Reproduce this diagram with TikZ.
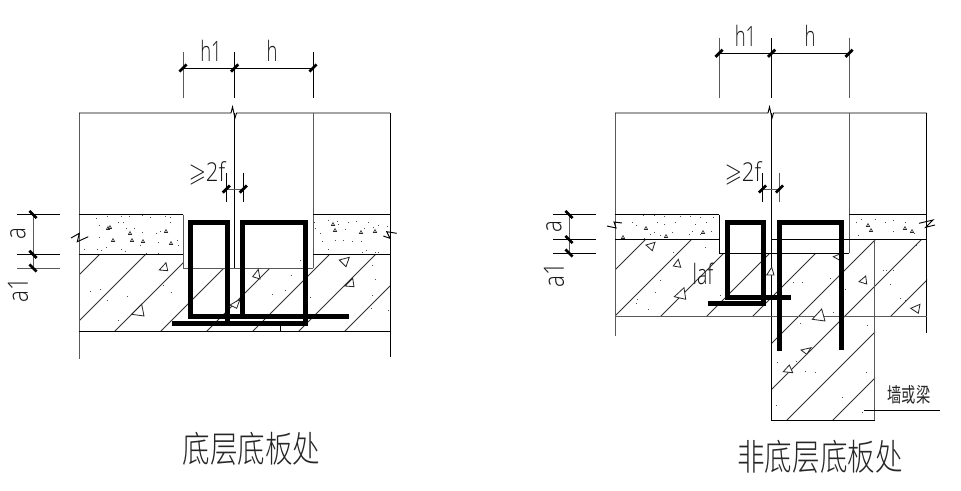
\documentclass[tikz,border=0pt]{standalone}
\usepackage{amssymb}
\usepackage{fontspec}
\setmainfont{Liberation Sans}
\newfontfamily\cadfont{Open Sans Light}
\newfontfamily\cjkfont{Noto Sans CJK SC Light}
\newfontfamily\cjkreg{Noto Sans CJK SC}
\newcommand{\cadtext}[3]{\scalebox{#1}[1]{\fontsize{#2}{#2}\cadfont #3}}
\newcommand{\tritri}[6]{\draw[aggr] (#1,#2) -- (#3,#4) -- (#5,#6) -- cycle;}
\tikzset{
  line/.style={line width=.95pt,black},
  gline/.style={line width=1pt,black!65},
  hatch/.style={line width=.85pt,black!80},
  rebar/.style={line width=5pt,black,line cap=butt,line join=miter},
  tickm/.style={line width=2.8pt,black},
  aggr/.style={line width=.8pt,black!85,fill=white},
  sg/.style={line width=.6pt,black!85},
  lab/.style={inner sep=0pt,black!90},
  cn/.style={inner sep=0pt,black!85}
}
\newcommand{\dtick}[2]{\draw[tickm] (#1-3.6,#2+3.6) -- (#1+3.6,#2-3.6);}
\newcommand{\vtick}[2]{\draw[tickm] (#1-3.6,#2-3.6) -- (#1+3.6,#2+3.6);}
\begin{document}
\begin{tikzpicture}[x=1pt,y=-1pt]
\useasboundingbox (0,0) rectangle (961,490);
\fill[white] (0,0) rectangle (961,490);

%%%%%%%% LEFT DETAIL
\begin{scope}
\clip (79,254) -- (183,254) -- (183,268) -- (313,268) -- (313,254) -- (390,254) -- (390,331) -- (79,331) -- cycle;
\foreach \c in {354,400,...,676} \draw[hatch] (\c-340,340) -- (\c-240,240);
\end{scope}
\draw[gline] (79,113) -- (79,359);
\draw[line] (390,113) -- (390,357);
\draw[line] (79,113) -- (231,113) -- (232.5,107) -- (235,118) -- (236.5,113) -- (390,113);
\draw[line] (234.6,113) -- (234.6,268);
\draw[gline] (313,113) -- (313,268);
\draw[line] (79,214.5) -- (183,214.5) (313,214.5) -- (390,214.5);
\draw[line] (79,254.4) -- (183,254.4) (313,254.4) -- (390,254.4);
\draw[gline] (183,214.5) -- (183,268) -- (313,268);
\draw[line] (79,331) -- (390,331);
\draw[line] (280,325) -- (280,331);
\draw[line] (71,238) -- (79.3,233.3) -- (77.3,241.7) -- (88.3,236.7);
\draw[line] (383.3,236) -- (390,238.3) -- (386.7,231.7) -- (396.7,233.3);
\tritri{159.3}{270}{166}{262.7}{167.7}{270.7}
\tritri{131.7}{314.3}{141.7}{304.3}{144}{316}
\tritri{252.7}{276.7}{258.3}{269.3}{260}{279}
\tritri{230}{305}{240}{299.3}{236.7}{308.3}
\tritri{339.3}{260}{349.3}{257.3}{346}{266.7}
\tritri{345}{286}{352.7}{278.3}{354}{286.7}
\foreach \p/\q in {108/228,113/240,130/233,132/240,143/241,171/243,166/231,110/227,333/224,335/230,361/232,375/231}
  \draw[sg] (\p-1.6,\q+1.5) -- (\p,\q-1.5) -- (\p+1.6,\q+1.5) -- cycle;
\foreach \p/\q in {96/218,107/216,121/216,129/216,142/215,150/217,165/216,170/217,99/225,118/222,123/222,134/228,126/228,142/232,156/233,160/231,170/222,177/240,178/245,84/249,97/249,101/250,106/247,121/249,125/251,146/253,158/253,158/242,99/237,140/245,
  314/222,328/220,337/221,348/222,356/221,368/222,378/225,387/226,320/233,322/241,328/249,335/240,343/240,352/241,361/241,315/228,338/224,345/229,364/228,373/227,362/252,375/252,378/252,366/250,
  90/291,100/289,107/300,127/296,118/320,171/292,163/285,300/260,291/275,272/294,310/297,
  372/265,375/279,371/308,372/295,388/310,285/290}
  \fill[black!70] (\p-.5,\q-.5) rectangle (\p+.5,\q+.5);
\draw[rebar] (190.5,316.5) -- (190.5,222) -- (227,222) -- (227,323);
\draw[rebar] (242.7,316.5) -- (242.7,222) -- (305,222) -- (305,325);
\draw[rebar] (188,316.5) -- (349,316.5);
\draw[rebar] (172,323) -- (307.5,323);
\draw[gline] (183,52) -- (183,98);
\draw[line] (234.6,52) -- (234.6,98);
\draw[line] (313,52) -- (313,98);
\draw[line] (183,68) -- (313,68);
\dtick{183}{68}\dtick{234.6}{68}\dtick{313}{68}
\node[lab] (lh1) at (211,50.5) {\cadtext{.66}{28}{h1}};
\node[lab] (lh) at (272,50.5) {\cadtext{.66}{28}{h}};
\draw[line] (226.3,172.5) -- (226.3,202);
\draw[line] (243.3,172.5) -- (243.3,202);
\draw[gline] (226.3,189) -- (243.3,189);
\dtick{226.3}{189}\dtick{243.3}{189}
\node[lab] (lf) at (207,173) {\cadtext{.85}{26}{$\geqslant$2f}};
\draw[line] (17,214.5) -- (60,214.5);
\draw[line] (17,254.4) -- (60,254.4);
\draw[gline] (17,268) -- (60,268);
\draw[gline] (33,214.5) -- (33,268);
\vtick{33}{214.5}\vtick{33}{254.4}\vtick{33}{268}
\node[lab,rotate=90] (la) at (18,234) {\cadtext{.8}{28}{a}};
\node[lab,rotate=90] (la1) at (18,290) {\cadtext{.8}{28}{a1}};
\node[cn] (ltitle) at (251.5,449) {\scalebox{.95}[1.25]{\fontsize{29}{29}\cjkfont 底层底板处}};

%%%%%%%% RIGHT DETAIL
\begin{scope}
\clip (615,239.5) -- (719.3,239.5) -- (719.3,253) -- (849,253) -- (849,239.5) -- (927,239.5) -- (927,316.7) -- (875,316.7) -- (875,420) -- (771.5,420) -- (771.5,316.7) -- (615,316.7) -- cycle;
\foreach \c in {885,931,...,1253} \draw[hatch] (\c-430,430) -- (\c-230,230);
\end{scope}
\draw[gline] (615,113) -- (615,336);
\draw[line] (926.5,113) -- (926.5,333);
\draw[line] (615,113) -- (768,113) -- (769.5,107) -- (772,118) -- (773.5,113) -- (926.5,113);
\draw[line] (771.6,113) -- (771.6,420) -- (874.7,420);
\draw[gline] (874.7,240) -- (874.7,420);
\draw[gline] (849,113) -- (849,253);
\draw[line] (615,214.5) -- (719.3,214.5) (849,214.5) -- (926.5,214.5);
\draw[line] (615,239.5) -- (719.3,239.5) (771.6,239.5) -- (926.5,239.5);
\draw[line] (719.3,214.5) -- (719.3,253) -- (849,253);
\draw[gline] (615,316.7) -- (926.5,316.7);
\draw[line] (607,226) -- (616,228) -- (614,222) -- (622,223);
\draw[line] (919,223.3) -- (933,220) -- (925.7,227.3) -- (935,225);
\tritri{646}{245}{655}{242.3}{652.3}{250.7}
\tritri{673.3}{266}{678.3}{259.3}{680.7}{267.3}
\tritri{674.3}{296.7}{684}{287.7}{685.7}{299.3}
\tritri{766.7}{275}{771.7}{267.3}{774}{275}
\tritri{833.3}{256.7}{840}{254}{839.3}{260}
\tritri{859}{281.7}{865.7}{276}{866.7}{284}
\tritri{910.7}{308.3}{920}{304.3}{918.3}{313.3}
\tritri{812.3}{319.3}{821.7}{309}{825}{321}
\tritri{801}{350}{811}{347.7}{806.7}{354.3}
\tritri{783.3}{371.7}{789.3}{365}{792.7}{372.7}
\foreach \p/\q in {623/237,646/228,666/236,703/232,868/225,871/230,905/228,912/231}
  \draw[sg] (\p-1.6,\q+1.5) -- (\p,\q-1.5) -- (\p+1.6,\q+1.5) -- cycle;
\foreach \p/\q in {643/215,654/215,664/216,680/216,690/216,700/217,713/217,632/222,636/225,657/222,664/224,675/222,695/224,706/222,654/232,660/235,672/232,692/231,711/231,644/238,650/234,689/234,700/234,
  856/222,861/219,875/219,885/222,893/220,905/222,858/235,893/231,914/233,
  673/252,705/247,660/280,655/292,636/303,648/309,637/299,720/295,
  916/245,886/270,883/270,893/270,793/282,802/282,830/278,845/289,833/312,867/325,890/284,
  800/323,777/362,796/361,805/371,815/372,866/372,842/397,776/405,862/412,
  900/298,905/300}
  \fill[black!70] (\p-.5,\q-.5) rectangle (\p+.5,\q+.5);
\draw[rebar] (727,297.5) -- (727,222) -- (763.5,222) -- (763.5,306);
\draw[rebar] (779,351) -- (779,222) -- (841.7,222) -- (841.7,350);
\draw[rebar] (724.5,297.5) -- (790.7,297.5);
\draw[rebar] (707.7,303.7) -- (766,303.7);
\draw[gline] (719,37.7) -- (719,97.7);
\draw[line] (771.6,37.7) -- (771.6,97.7);
\draw[gline] (849,37.7) -- (849,97.7);
\draw[line] (719,53.3) -- (849,53.3);
\dtick{719}{53.3}\dtick{771.6}{53.3}\dtick{849}{53.3}
\node[lab] (rh1) at (745.5,35.5) {\cadtext{.66}{28}{h1}};
\node[lab] (rh) at (810,35.5) {\cadtext{.66}{28}{h}};
\draw[line] (762.5,172.5) -- (762.5,202);
\draw[gline] (779.5,172.5) -- (779.5,202);
\draw[gline] (762.5,189) -- (779.5,189);
\dtick{762.5}{189}\dtick{779.5}{189}
\node[lab] (rf) at (743,173) {\cadtext{.85}{26}{$\geqslant$2f}};
\draw[line] (553,214.5) -- (596,214.5);
\draw[line] (553,239.5) -- (596,239.5);
\draw[line] (553,253) -- (596,253);
\draw[gline] (569,214.5) -- (569,253);
\vtick{569}{214.5}\vtick{569}{239.5}\vtick{569}{253}
\node[lab,rotate=90] (ra) at (554,227) {\cadtext{.8}{28}{a}};
\node[lab,rotate=90] (ra1) at (554,275) {\cadtext{.8}{28}{a1}};
\node[lab] (rlaf) at (703,274) {\cadtext{.7}{28}{laf}};
\coordinate (ldA) at (864,410);
\coordinate (ldB) at (940,410);
\draw[line] (ldA) -- (ldB);
\node[cn] (rwall) at (909,395) {\scalebox{.95}[1.35]{\fontsize{15}{15}\cjkreg 墙或梁}};
\node[cn] (rtitle) at (820,457) {\scalebox{.95}[1.25]{\fontsize{29}{29}\cjkfont 非底层底板处}};
\end{tikzpicture}
\end{document}
